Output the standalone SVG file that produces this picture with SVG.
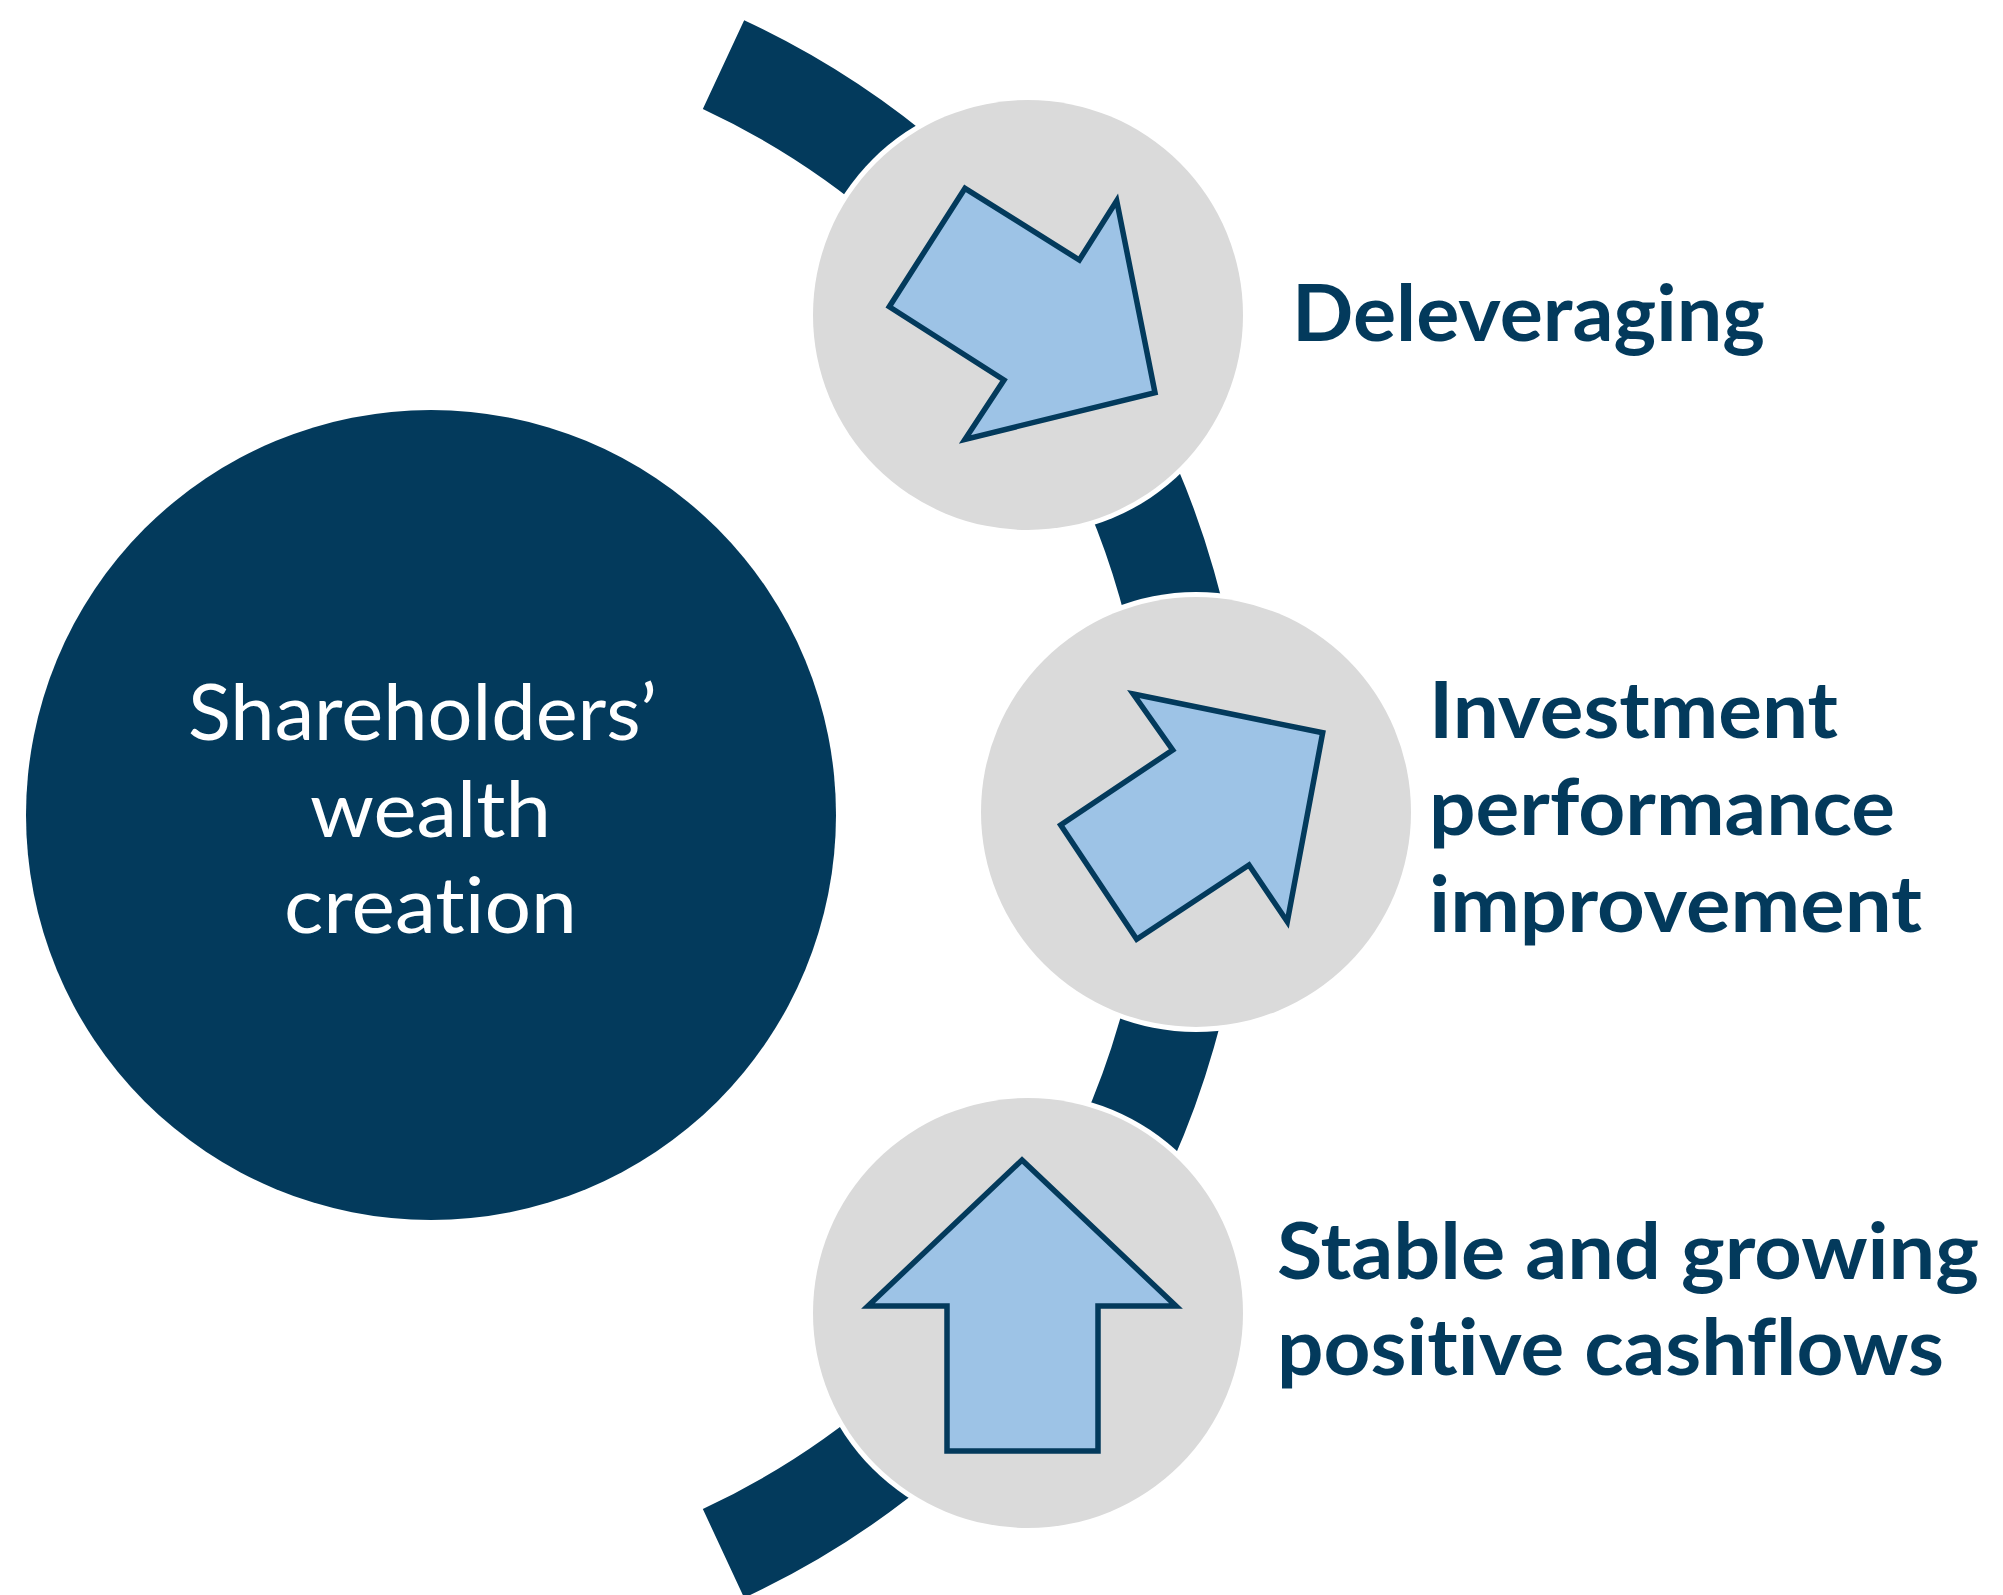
<svg xmlns="http://www.w3.org/2000/svg" width="2003" height="1595" viewBox="0 0 2003 1595">
  <style>
    .navy { fill: #033A5C; }
    .halo { fill: #FFFFFF; }
    .disc { fill: #DADADA; }
    .arrow { fill: #9DC3E6; stroke: #033A5C; stroke-width: 5.5; stroke-linejoin: miter; }
    .band { fill: none; stroke: #033A5C; stroke-width: 98; stroke-linecap: butt; }
    text { font-variant-ligatures: none; font-feature-settings: "liga" 0, "clig" 0, "dlig" 0; }
    .lbl { font-family: Lato, "Open Sans", "Liberation Sans", sans-serif; font-weight: 700; font-size: 78px; fill: #033A5C; }
    .ctr { font-family: Lato, "Open Sans", "Liberation Sans", sans-serif; font-weight: 400; font-size: 78px; fill: #FFFFFF; }
  </style>
  <rect x="0" y="0" width="2003" height="1595" fill="#FFFFFF"/>

  <g id="connectors">
    <path class="band" d="M 723.5 64.6 A 821 821 0 0 1 723.5 1553.4"/>
  </g>

  <g id="hub">
    <circle class="navy" cx="431" cy="815" r="405"/>
    <text class="ctr" x="188" y="740" textLength="469" lengthAdjust="spacingAndGlyphs">Shareholders’</text>
    <text class="ctr" x="310" y="837" textLength="241" lengthAdjust="spacingAndGlyphs">wealth</text>
    <text class="ctr" x="284" y="933" textLength="293" lengthAdjust="spacingAndGlyphs">creation</text>
  </g>

  <g id="node-deleveraging">
    <circle class="halo" cx="1028" cy="315" r="220"/>
    <circle class="disc" cx="1028" cy="315" r="215"/>
    <polygon class="arrow" points="965,188.3 1079.3,260 1116.7,200.7 1155,392.7 965,439.3 1004,380 889.3,306.7"/>
    <text class="lbl" x="1292" y="341" textLength="473" lengthAdjust="spacingAndGlyphs">Deleveraging</text>
  </g>

  <g id="node-investment">
    <circle class="halo" cx="1196" cy="812" r="220"/>
    <circle class="disc" cx="1196" cy="812" r="215"/>
    <polygon class="arrow" points="1133.3,694 1322.7,732.7 1287.3,921.7 1249,865 1136.7,939.3 1060.7,825 1172.7,750"/>
    <text class="lbl" x="1429" y="738" textLength="409" lengthAdjust="spacingAndGlyphs">Investment</text>
    <text class="lbl" x="1429" y="835" textLength="466" lengthAdjust="spacingAndGlyphs">performance</text>
    <text class="lbl" x="1429" y="932" textLength="493" lengthAdjust="spacingAndGlyphs">improvement</text>
  </g>

  <g id="node-cashflows">
    <circle class="halo" cx="1028" cy="1313" r="220"/>
    <circle class="disc" cx="1028" cy="1313" r="215"/>
    <polygon class="arrow" points="1022,1160 1176,1306 1098,1306 1098,1451 947,1451 947,1306 868,1306"/>
    <text class="lbl" x="1277" y="1279" textLength="702" lengthAdjust="spacingAndGlyphs">Stable and growing</text>
    <text class="lbl" x="1277" y="1375" textLength="667" lengthAdjust="spacingAndGlyphs">positive cashflows</text>
  </g>
</svg>
